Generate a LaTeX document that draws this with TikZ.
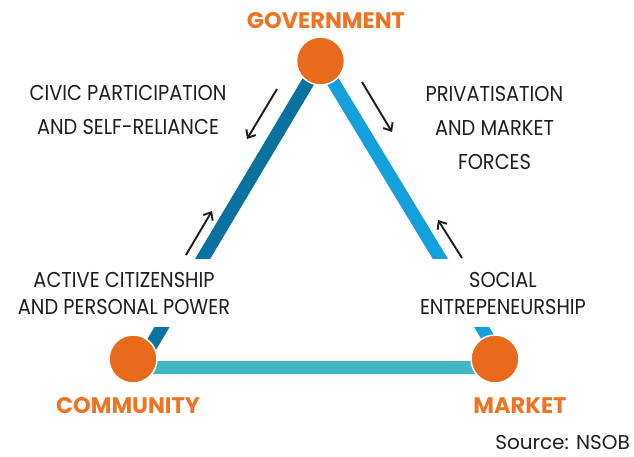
\documentclass[tikz,border=0pt]{standalone}
\usepackage{fontspec}
\setmainfont{Poppins}
\newfontfamily\labelfont[FakeStretch=0.9]{Poppins}
\newfontfamily\headfont{Poppins}
\usetikzlibrary{arrows.meta}

\definecolor{hubfill}{HTML}{EA6A1C}
\definecolor{headtext}{HTML}{EE7424}
\definecolor{govcomm}{HTML}{0A71A0}
\definecolor{govmarket}{HTML}{13A0DD}
\definecolor{commmarket}{HTML}{41B7C5}
\definecolor{ink}{HTML}{1E1E1E}

\tikzset{
  bar/.style={line width=13pt, line cap=butt},
  hub/.style={circle, minimum size=48pt, inner sep=0pt, fill=hubfill, draw=white, line width=1.5pt},
  headlabel/.style={text=headtext, font={\headfont\bfseries\fontsize{22.5}{26}\selectfont}, inner sep=0pt},
  flowlabel/.style={text=ink, align=center, inner sep=0pt, font={\labelfont\fontsize{21.5}{34}\selectfont}},
  endlabel/.style={flowlabel, font={\labelfont\fontsize{21.5}{27}\selectfont}, fill=white, minimum height=68pt, inner xsep=6pt},
  flow/.style={ink, line width=1.9pt, -{Straight Barb[length=6.5pt, width=11pt, line width=1.9pt]}}
}

\begin{document}
\begin{tikzpicture}[x=1pt, y=-1pt]
\useasboundingbox (0,0) rectangle (634,456);

% hub positions and bar end points
\coordinate (g) at (320.5,61);
\coordinate (c) at (133,359);
\coordinate (m) at (495,359);
\coordinate (cEnd) at (143,359);
\coordinate (mEnd) at (501,359);
\coordinate (cBase) at (133,367);
\coordinate (mBase) at (495,367);

% the three sides of the triangle
\draw[bar, govcomm] (g) -- (cEnd);
\draw[bar, govmarket] (g) -- (mEnd);
\draw[bar, commmarket] (cBase) -- (mBase);

% labels at the lower ends of the slanted sides (they interrupt the bars)
\node[endlabel] (active) at (124,293) {ACTIVE CITIZENSHIP\\AND PERSONAL POWER};
\node[endlabel] (social) at (503,293) {SOCIAL\\ENTREPENEURSHIP};

% labels at the upper ends
\node[flowlabel] (civic) at (128,110) {CIVIC PARTICIPATION\\AND SELF-RELIANCE};
\node[flowlabel] (priv) at (494.5,127.5) {PRIVATISATION\\AND MARKET\\FORCES};

% the three hubs
\node[hub] (gov) at (g) {};
\node[hub] (comm) at (c) {};
\node[hub] (mkt) at (m) {};

\node[headlabel] (govname) at (326,21) {GOVERNMENT};
\node[headlabel] (commname) at (128,406) {COMMUNITY};
\node[headlabel] (mktname) at (520,406) {MARKET};

\node[text=ink, font={\headfont\fontsize{20}{24}\selectfont}, anchor=east, inner sep=0pt] (source) at (630,442.5) {Source: NSOB};

% direction arrows along the slanted sides
\coordinate (a1s) at (277,89);   \coordinate (a1e) at (247,139);
\coordinate (a2s) at (186,255);  \coordinate (a2e) at (212,211);
\coordinate (a3s) at (362,82);   \coordinate (a3e) at (392,132);
\coordinate (a4s) at (462,258);  \coordinate (a4e) at (438,220);
\draw[flow] (a1s) -- (a1e);
\draw[flow] (a2s) -- (a2e);
\draw[flow] (a3s) -- (a3e);
\draw[flow] (a4s) -- (a4e);
\end{tikzpicture}
\end{document}
